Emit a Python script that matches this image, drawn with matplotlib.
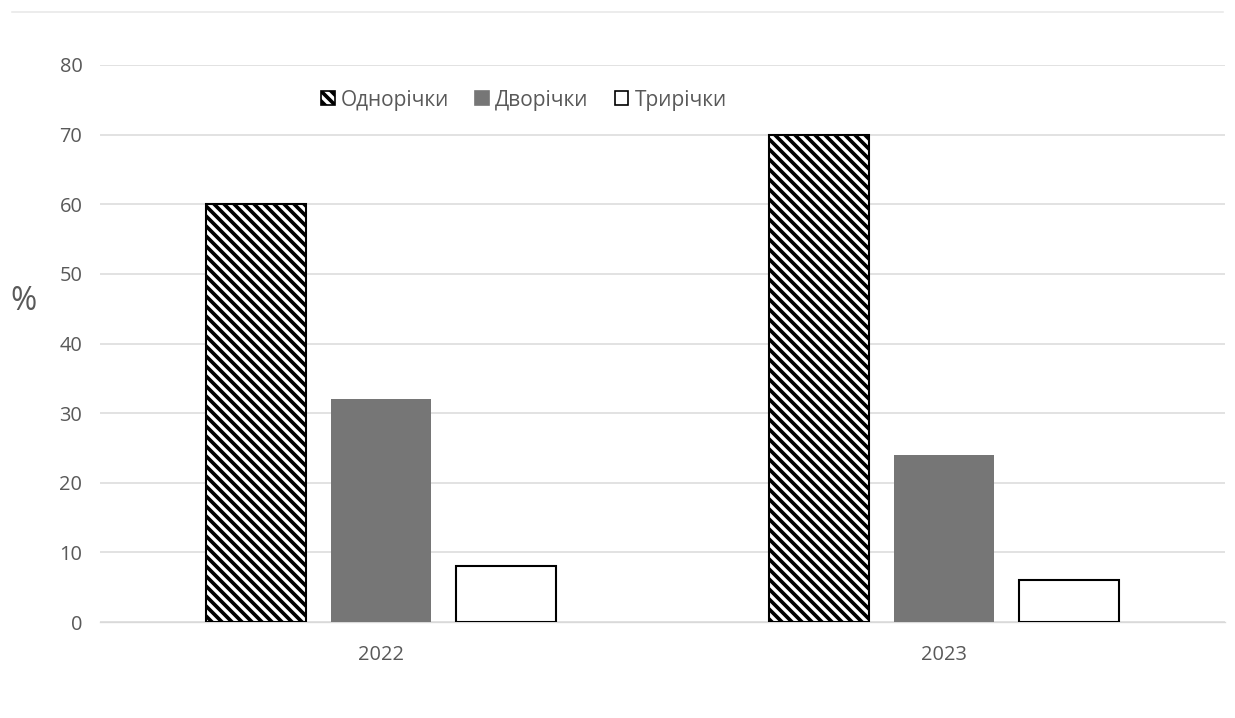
import matplotlib
matplotlib.use("Agg")
import matplotlib.pyplot as plt
import numpy as np
from matplotlib.patches import Patch

years = ["2022", "2023"]
series_names = ["Однорічки", "Дворічки", "Трирічки"]
one_year = [60, 70]
two_year = [32, 24]
three_year = [8, 6]
yticks = [0, 10, 20, 30, 40, 50, 60, 70, 80]

DPI = 120
plt.rcParams['font.family'] = ['Open Sans', 'DejaVu Sans']
plt.rcParams['hatch.linewidth'] = 2.2

fig = plt.figure(figsize=(1235/DPI, 718/DPI), dpi=DPI)
ax = fig.add_axes([100/1235, 1-622/718, 1125/1235, (622-65)/718])

x = np.arange(len(years))
w = 0.178
off = 0.222
HATCH = '\\\\\\\\'
ax.bar(x - off, one_year, w, facecolor='white', edgecolor='black', hatch=HATCH, linewidth=1.25, zorder=3)
ax.bar(x, two_year, w, facecolor='#767676', edgecolor='#767676', linewidth=0, zorder=3)
ax.bar(x + off, three_year, w, facecolor='white', edgecolor='black', linewidth=1.25, zorder=3)

ax.set_xlim(-0.5, 1.5)
ax.set_ylim(0, 80)
ax.set_yticks(yticks)
ax.set_xticks(x)
ax.set_xticklabels(years)
ax.yaxis.grid(True, color='#d9d9d9', linewidth=0.9, zorder=0)
ax.set_axisbelow(True)
for s in ['top', 'right', 'left']:
    ax.spines[s].set_visible(False)
ax.spines['bottom'].set_color('#d9d9d9')
ax.tick_params(axis='both', length=0, colors='#595959', labelsize=12)
ax.tick_params(axis='y', pad=10.5)
ax.tick_params(axis='x', pad=14)
ax.set_ylabel('%', rotation=0, fontsize=19, color='#595959')
ax.yaxis.set_label_coords(-0.068, 0.545)

handles = [
    Patch(facecolor='white', edgecolor='black', hatch=HATCH, linewidth=1.0),
    Patch(facecolor='#767676', edgecolor='#767676'),
    Patch(facecolor='white', edgecolor='black', linewidth=1.0),
]
leg = ax.legend(handles, series_names, loc='center left', bbox_to_anchor=(0.1965, 0.937),
                ncol=3, frameon=False, fontsize=12.5, handlelength=0.65, handleheight=0.65,
                handletextpad=0.3, columnspacing=1.25, labelcolor='#595959',
                borderpad=0, borderaxespad=0)

fig.add_artist(plt.Line2D([0.01, 0.99], [1-12/718, 1-12/718], color='#e6e6e6', linewidth=0.9))

fig.savefig('out.png', dpi=DPI)
